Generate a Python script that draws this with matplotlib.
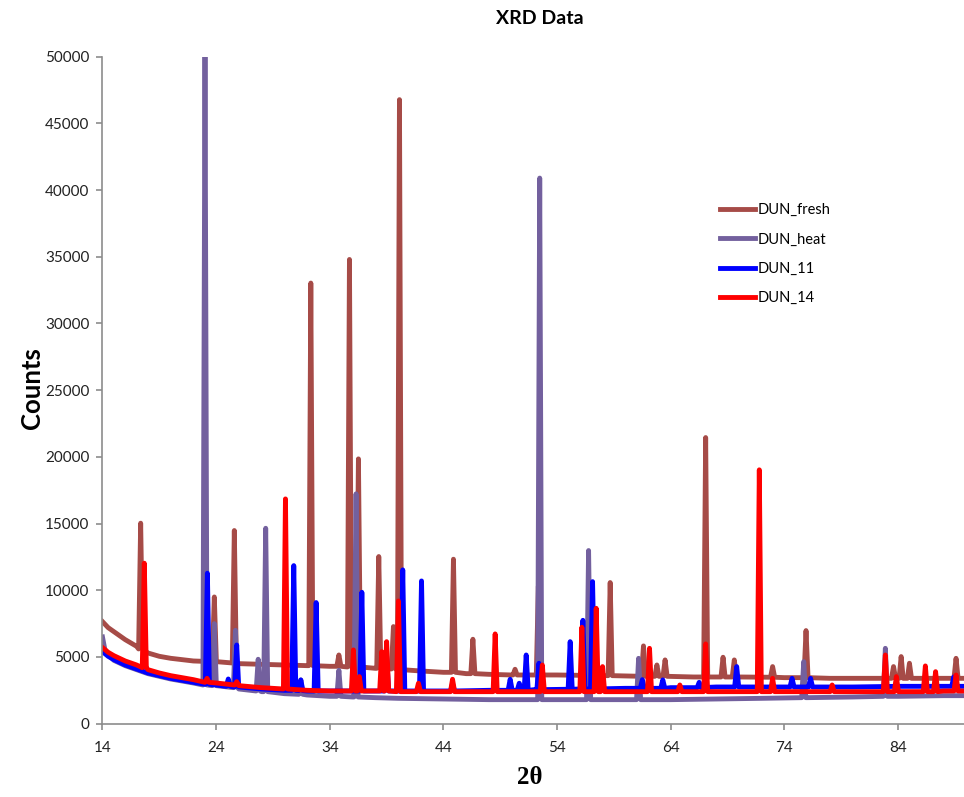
import matplotlib
matplotlib.use('Agg')
import matplotlib.pyplot as plt

# dane: tlo (punkty) i piki (pozycja 2theta, wierzcholek, podstawa)
fresh_bg_x = [14, 14.5, 15, 16, 17, 18, 19, 20, 22, 24, 26, 28, 30, 32, 34, 36, 38, 40, 42, 44, 46, 48, 50, 54, 58, 62, 66, 70, 74, 78, 82, 86, 89.8]
fresh_bg_y = [7650, 7200, 6900, 6300, 5800, 5300, 5050, 4900, 4700, 4600, 4500, 4450, 4400, 4350, 4300, 4250, 4150, 4050, 3950, 3850, 3750, 3700, 3650, 3650, 3600, 3550, 3500, 3500, 3450, 3400, 3400, 3400, 3400]
fresh_pk_x = [17.36, 23.84, 25.6, 32.33, 34.8, 35.73, 36.52, 38.31, 39.6, 40.13, 44.88, 46.59, 50.3, 52.35, 58.67, 61.6, 62.78, 63.5, 67.07, 68.6, 69.59, 72.96, 75.9, 83.6, 84.27, 85.0, 89.1]
fresh_pk_top = [15030, 9500, 14480, 33030, 5150, 34800, 19850, 12530, 7280, 46780, 12330, 6330, 4080, 10300, 10580, 5830, 4400, 4780, 21450, 4980, 4780, 4280, 6980, 4280, 5030, 4530, 4900]
fresh_pk_base = [5600, 4650, 4550, 4350, 4300, 4250, 4250, 4150, 4100, 4050, 3850, 3750, 3650, 3650, 3600, 3550, 3550, 3550, 3500, 3500, 3500, 3480, 3450, 3400, 3400, 3400, 3400]

heat_bg_x = [14, 14.2, 14.5, 15, 16, 17, 18, 20, 22, 24, 26, 28, 30, 32, 34, 36, 38, 40, 44, 48, 52, 56, 60, 64, 68, 72, 76, 80, 84, 88, 89.8]
heat_bg_y = [6500, 5600, 5200, 4750, 4350, 4050, 3750, 3350, 3050, 2800, 2600, 2400, 2250, 2150, 2050, 2000, 1950, 1900, 1850, 1800, 1800, 1800, 1800, 1800, 1850, 1900, 1950, 2000, 2050, 2100, 2100]
heat_pk_x = [23.02, 23.84, 25.7, 27.7, 28.36, 31.45, 34.8, 36.31, 52.47, 56.77, 61.17, 75.7, 82.88]
heat_pk_top = [50000, 7500, 7000, 4830, 14650, 3280, 4000, 17230, 40900, 12980, 4900, 4650, 5650]
heat_pk_base = [2900, 2850, 2700, 2450, 2400, 2200, 2050, 2000, 1800, 1800, 1800, 1950, 2050]

d11_bg_x = [14, 14.5, 15, 16, 17, 18, 20, 22, 24, 26, 28, 30, 32, 36, 40, 44, 48, 52, 56, 60, 64, 68, 72, 76, 80, 84, 88, 89.8]
d11_bg_y = [5400, 5050, 4800, 4400, 4100, 3800, 3400, 3100, 2900, 2750, 2600, 2500, 2450, 2450, 2450, 2450, 2500, 2550, 2600, 2650, 2700, 2750, 2750, 2750, 2750, 2800, 2800, 2800]
d11_pk_x = [23.23, 25.07, 25.81, 30.83, 31.45, 32.8, 36.82, 39.0, 40.42, 42.07, 44.8, 49.87, 50.67, 51.28, 52.4, 55.15, 56.27, 57.12, 61.5, 63.3, 66.5, 69.8, 74.67, 76.3, 88.9]
d11_pk_top = [11280, 3350, 5900, 11850, 3280, 9080, 9850, 5030, 11530, 10700, 3000, 3330, 3030, 5150, 4530, 6150, 7750, 10650, 3300, 3280, 3100, 4280, 3400, 3400, 3500]
d11_pk_base = [2950, 2800, 2750, 2500, 2480, 2450, 2450, 2450, 2450, 2450, 2450, 2500, 2500, 2500, 2550, 2580, 2600, 2600, 2650, 2650, 2700, 2750, 2750, 2750, 2800]

d14_bg_x = [14, 14.5, 15, 16, 17, 18, 19, 20, 22, 24, 26, 28, 30, 32, 34, 36, 40, 44, 48, 52, 56, 60, 64, 68, 72, 76, 80, 84, 88, 89.8]
d14_bg_y = [5700, 5350, 5100, 4700, 4400, 4050, 3800, 3600, 3300, 3050, 2850, 2700, 2600, 2500, 2450, 2450, 2400, 2400, 2400, 2400, 2400, 2400, 2400, 2400, 2400, 2400, 2400, 2400, 2450, 2450]
d14_pk_x = [17.68, 23.2, 25.81, 30.1, 36.08, 36.6, 38.57, 39.0, 40.04, 41.8, 44.8, 48.55, 52.7, 56.18, 57.44, 58.0, 62.13, 64.8, 67.07, 71.79, 72.96, 78.2, 82.88, 83.85, 86.4, 87.3, 89.1]
d14_pk_top = [12030, 3400, 3150, 16850, 5530, 3530, 5400, 6150, 9200, 3030, 3330, 6730, 4400, 7230, 8650, 4280, 5650, 2900, 5980, 19030, 3400, 2900, 5150, 3530, 4330, 3900, 3650]
d14_pk_base = [4200, 3100, 2900, 2600, 2450, 2450, 2450, 2450, 2400, 2400, 2400, 2400, 2400, 2400, 2400, 2400, 2400, 2400, 2400, 2400, 2400, 2400, 2400, 2400, 2400, 2400, 2450]


# skladanie linii z punktow tla i pikow
def build(bg_x, bg_y, pk_x, pk_top, pk_base, w=0.18):
    pts = []
    for x, y in zip(bg_x, bg_y):
        if all(abs(x - p) > w for p in pk_x):
            pts.append((x, y))
    for p, t, b in zip(pk_x, pk_top, pk_base):
        pts += [(p - w, b), (p, t), (p + w, b)]
    pts.sort()
    return [p[0] for p in pts], [p[1] for p in pts]


series = [
    ('DUN_fresh', '#A64B47', build(fresh_bg_x, fresh_bg_y, fresh_pk_x, fresh_pk_top, fresh_pk_base)),
    ('DUN_heat', '#73609E', build(heat_bg_x, heat_bg_y, heat_pk_x, heat_pk_top, heat_pk_base)),
    ('DUN_11', '#0000FF', build(d11_bg_x, d11_bg_y, d11_pk_x, d11_pk_top, d11_pk_base)),
    ('DUN_14', '#FF0000', build(d14_bg_x, d14_bg_y, d14_pk_x, d14_pk_top, d14_pk_base)),
]

plt.rcParams['font.family'] = ['Lato', 'DejaVu Sans']

fig = plt.figure(figsize=(9.64, 7.97), dpi=100)
ax = fig.add_axes([0.1063, 0.092, 0.8937, 0.8369])

for name, color, (xs, ys) in series:
    ax.plot(xs, ys, color=color, lw=3.5, label=name, solid_joinstyle='round')

ax.set_xlim(14, 89.8)
ax.set_ylim(0, 50000)
ax.set_xticks(range(14, 85, 10))
ax.set_yticks(range(0, 50001, 5000))

for s in ['top', 'right']:
    ax.spines[s].set_visible(False)
for s in ['left', 'bottom']:
    ax.spines[s].set_color('#8C8C8C')
    ax.spines[s].set_linewidth(1.2)
ax.tick_params(axis='both', colors='#8C8C8C', labelcolor='#222222', labelsize=11, length=4.5, width=1.2)
ax.tick_params(axis='x', pad=8)
ax.tick_params(axis='y', pad=5)

fig.text(0.56, 0.977, 'XRD Data', ha='center', va='center', fontsize=14, fontweight='bold')
fig.text(0.033, 0.513, 'Counts', ha='center', va='center', rotation=90, fontsize=18.5, fontweight='bold')
fig.text(0.55, 0.024, '2\u03b8', ha='center', va='center', fontsize=18, fontweight='bold',
         family=['Liberation Serif', 'DejaVu Serif'])

ax.legend(loc='upper left', bbox_to_anchor=(707 / 964, 1 - 190 / 797), bbox_transform=fig.transFigure,
          frameon=False, fontsize=10.5, handlelength=2.4, handletextpad=0.15, labelspacing=1.05)

fig.savefig('out.png', dpi=100)
